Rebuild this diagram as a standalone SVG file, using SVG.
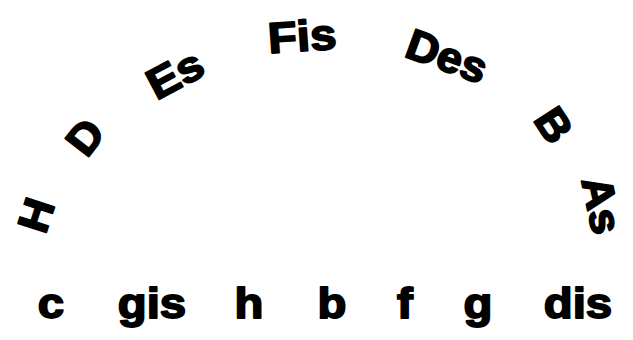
<svg xmlns="http://www.w3.org/2000/svg" width="633" height="340" viewBox="0 0 633 340">
<style>
text{font-family:"Liberation Sans",Arial,sans-serif;font-weight:bold;font-size:43px;fill:#000;stroke:#000;stroke-width:1.8px;stroke-linejoin:round;text-anchor:middle}
</style>
<rect width="633" height="340" fill="#fff"/>
<g id="arc">
<g id="n-H"><text transform="translate(36,215) rotate(-72) scale(1.05,1)" y="15">H</text></g>
<g id="n-D"><text transform="translate(85,137) rotate(-52) scale(1.05,1)" y="15">D</text></g>
<g id="n-Es"><text transform="translate(175,74) rotate(-28) scale(1.1,1)" y="15">Es</text></g>
<g id="n-Fis"><text transform="translate(302,36) rotate(-4) scale(1.1,1)" y="15">Fis</text></g>
<g id="n-Des"><text transform="translate(447,56) rotate(20) scale(1.05,1)" y="15">Des</text></g>
<g id="n-B"><text transform="translate(554,125) rotate(57) scale(1.05,1)" y="15">B</text></g>
<g id="n-As"><text transform="translate(602,205) rotate(78) scale(1.05,1)" y="15">As</text></g>
</g>
<g id="row" transform="translate(0,318) scale(1,1)">
<g id="n-c"><text transform="translate(51,0) scale(1.1,1)">c</text></g>
<g id="n-gis"><text transform="translate(152,0) scale(1.1,1)">gis</text></g>
<g id="n-h"><text transform="translate(249,0) scale(1.1,1)">h</text></g>
<g id="n-b"><text transform="translate(332,0) scale(1.1,1)">b</text></g>
<g id="n-f"><text transform="translate(405,0) scale(1.1,1)">f</text></g>
<g id="n-g"><text transform="translate(478,0) scale(1.1,1)">g</text></g>
<g id="n-dis"><text transform="translate(578,0) scale(1.1,1)">dis</text></g>
</g>
<g id="connectors"/>
</svg>
